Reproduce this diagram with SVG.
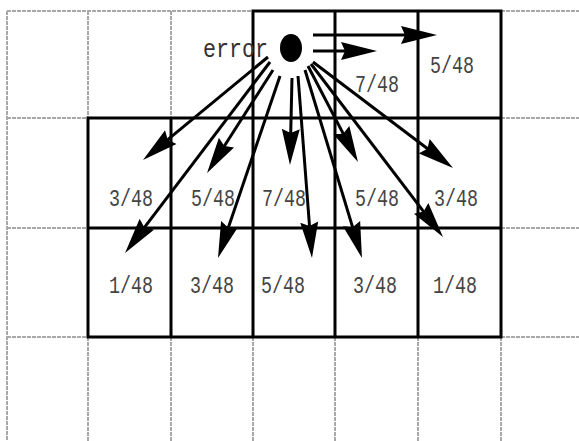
<svg xmlns="http://www.w3.org/2000/svg" width="579" height="441" viewBox="0 0 579 441">
<style>
.g{stroke:#a8a8a8;stroke-width:2;stroke-dasharray:4 1;fill:none}
.b{stroke:#000;stroke-width:3;fill:none;stroke-linecap:square}
.a{stroke:#000;stroke-width:3;fill:none;marker-end:url(#ah)}
.t{font-family:"Liberation Mono","DejaVu Sans Mono",monospace;font-size:24px;fill:#444;text-anchor:middle}
</style>
<defs>
<marker id="ah" markerUnits="userSpaceOnUse" markerWidth="38" markerHeight="20" viewBox="0 0 38 20" refX="22" refY="10" orient="auto">
<path d="M0,1 L36,10 L0,19 L4,10 z" fill="#000"/>
</marker>
</defs>
<rect width="579" height="441" fill="#fff"/>
<g id="grid">
<path class="g" d="M7,11H253 M501,11H579 M7,118H88 M501,118H579 M7,228H88 M501,228H579 M7,337H88 M501,337H579"/>
<path class="g" d="M7,11V441 M88,11V118 M171,11V118 M88,337V441 M171,337V441 M253,337V441 M335,337V441 M418,337V441 M501,337V441"/>
<path class="b" d="M253,11H501 M88,118H501 M88,228H501 M88,337H501 M88,118V337 M171,118V337 M253,11V337 M335,11V337 M418,11V337 M501,11V337"/>
</g>
<g id="error">
<ellipse cx="291" cy="48" rx="11" ry="14" fill="#000"/>
<text x="203" y="57" font-family="Liberation Mono,monospace" font-size="26" fill="#333" textLength="65" lengthAdjust="spacingAndGlyphs">error</text>
</g>
<g id="connectors">
<line class="a" x1="313" y1="35" x2="423" y2="35"/>
<line class="a" x1="313" y1="51" x2="363" y2="51"/>
<line class="a" x1="268" y1="57" x2="153.8" y2="151.1"/>
<line class="a" x1="270" y1="62" x2="133.5" y2="241.8"/>
<line class="a" x1="273" y1="70" x2="214.6" y2="161.2"/>
<line class="a" x1="280" y1="76" x2="222.5" y2="244.8"/>
<line class="a" x1="292" y1="78" x2="290.3" y2="151"/>
<line class="a" x1="298" y1="76" x2="310.9" y2="244"/>
<line class="a" x1="305" y1="70" x2="357.9" y2="244.6"/>
<line class="a" x1="308" y1="66" x2="351.5" y2="149.6"/>
<line class="a" x1="311" y1="64" x2="434.5" y2="225.9"/>
<line class="a" x1="313" y1="62" x2="441.8" y2="159.5"/>
</g>
<g id="labels">
<text class="t" x="377" y="92" textLength="44" lengthAdjust="spacingAndGlyphs">7/48</text>
<text class="t" x="452" y="73" textLength="44" lengthAdjust="spacingAndGlyphs">5/48</text>
<text class="t" x="131" y="206" textLength="44" lengthAdjust="spacingAndGlyphs">3/48</text>
<text class="t" x="213" y="206" textLength="44" lengthAdjust="spacingAndGlyphs">5/48</text>
<text class="t" x="284" y="206" textLength="44" lengthAdjust="spacingAndGlyphs">7/48</text>
<text class="t" x="377" y="206" textLength="44" lengthAdjust="spacingAndGlyphs">5/48</text>
<text class="t" x="456" y="206" textLength="44" lengthAdjust="spacingAndGlyphs">3/48</text>
<text class="t" x="131" y="293" textLength="44" lengthAdjust="spacingAndGlyphs">1/48</text>
<text class="t" x="212" y="293" textLength="44" lengthAdjust="spacingAndGlyphs">3/48</text>
<text class="t" x="283" y="293" textLength="44" lengthAdjust="spacingAndGlyphs">5/48</text>
<text class="t" x="375" y="293" textLength="44" lengthAdjust="spacingAndGlyphs">3/48</text>
<text class="t" x="455" y="293" textLength="44" lengthAdjust="spacingAndGlyphs">1/48</text>
</g>
</svg>
